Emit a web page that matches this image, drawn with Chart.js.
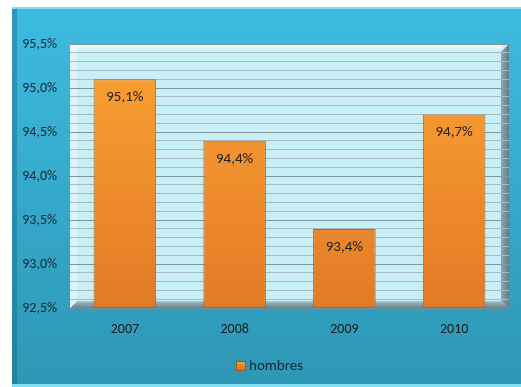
<!DOCTYPE html>
<html>
<head>
<meta charset="utf-8">
<script src="https://cdn.jsdelivr.net/npm/chart.js@4/dist/chart.umd.min.js"></script>
<style>
html,body{margin:0;padding:0;background:#fff;}
#wrap{width:521px;height:387px;position:relative;}
</style>
</head>
<body>
<div id="wrap"><canvas id="c" width="521" height="387"></canvas></div>
<script>
const categories = ["2007", "2008", "2009", "2010"];
const hombres = [95.1, 94.4, 93.4, 94.7];
const yMin = 92.5, yMax = 95.5, yMajor = 0.5, yMinor = 0.1;
const seriesName = "hombres";

const FONT = "Carlito, Lato, 'Liberation Sans', sans-serif";
const fmt = v => v.toFixed(1).replace('.', ',') + '%';

const bgPlugin = {
  id: 'bg',
  beforeDraw(chart) {
    const ctx = chart.ctx, W = chart.width, H = chart.height;
    ctx.save();
    ctx.fillStyle = '#ffffff';
    ctx.fillRect(0, 0, W, H);
    const g = ctx.createLinearGradient(0, 7, 0, 384);
    g.addColorStop(0, '#3dbbe0');
    g.addColorStop(1, '#2e97b5');
    ctx.fillStyle = g;
    ctx.fillRect(12, 7, W - 12, 377);
    ctx.fillStyle = '#7fe0f5';
    ctx.fillRect(12, 7, W - 12, 2);
    ctx.fillRect(12, 384, W - 12, 3);
    ctx.fillStyle = 'rgba(20,90,120,0.35)';
    ctx.fillRect(12, 9, 5, 375);
    const a = chart.chartArea;
    ctx.fillStyle = '#c8eef6';
    ctx.fillRect(a.left, a.top, a.right - a.left, a.bottom - a.top);
    const gt = ctx.createLinearGradient(0, a.top, 0, a.top + 7);
    gt.addColorStop(0, '#f2feff');
    gt.addColorStop(1, '#cdf0f7');
    ctx.fillStyle = gt;
    ctx.fillRect(a.left, a.top, a.right - a.left - 7, 7);
    ctx.fillStyle = 'rgba(255,255,255,0.35)';
    ctx.fillRect(a.left, a.top, 7, a.bottom - a.top);
    const gr = ctx.createLinearGradient(a.right - 8, 0, a.right, 0);
    gr.addColorStop(0, '#8fa9b0');
    gr.addColorStop(1, '#5f7c85');
    ctx.fillStyle = gr;
    ctx.beginPath();
    ctx.moveTo(a.right - 8, a.top + 8);
    ctx.lineTo(a.right, a.top);
    ctx.lineTo(a.right, a.bottom);
    ctx.lineTo(a.right - 8, a.bottom - 7);
    ctx.closePath();
    ctx.fill();
    ctx.restore();
  },
  beforeDatasetsDraw(chart) {
    const ctx = chart.ctx, a = chart.chartArea;
    ctx.save();
    const gf = ctx.createLinearGradient(0, a.bottom - 7, 0, a.bottom);
    gf.addColorStop(0, 'rgba(140,168,176,0.7)');
    gf.addColorStop(1, 'rgba(90,120,130,0.95)');
    ctx.fillStyle = gf;
    ctx.beginPath();
    ctx.moveTo(a.left + 7, a.bottom - 7);
    ctx.lineTo(a.right - 8, a.bottom - 7);
    ctx.lineTo(a.right, a.bottom);
    ctx.lineTo(a.left, a.bottom);
    ctx.closePath();
    ctx.fill();
    ctx.restore();
  },
  afterDatasetsDraw(chart) {
    const ctx = chart.ctx;
    ctx.save();
    const meta = chart.getDatasetMeta(0);
    ctx.font = "15px " + FONT;
    ctx.fillStyle = '#1e1e1e';
    ctx.textAlign = 'center';
    ctx.textBaseline = 'middle';
    meta.data.forEach((bar, i) => {
      ctx.fillText(fmt(hombres[i]), bar.x, bar.y + 18);
    });
    ctx.restore();
  },
  afterDraw(chart) {
    const ctx = chart.ctx;
    ctx.save();
    ctx.font = "15px " + FONT;
    const tw = ctx.measureText(seriesName).width;
    const box = 10, gap = 3;
    const total = box + gap + tw;
    const cx = 270, cy = 366;
    const x0 = Math.round(cx - total / 2);
    const gb = ctx.createLinearGradient(0, cy - 5, 0, cy + 5);
    gb.addColorStop(0, '#f7a23a');
    gb.addColorStop(1, '#d86e20');
    ctx.fillStyle = gb;
    ctx.fillRect(x0, cy - 5, box, box);
    ctx.strokeStyle = '#a8561a';
    ctx.lineWidth = 1;
    ctx.strokeRect(x0 + 0.5, cy - 4.5, box - 1, box - 1);
    ctx.fillStyle = '#1a2535';
    ctx.textAlign = 'left';
    ctx.textBaseline = 'middle';
    ctx.fillText(seriesName, x0 + box + gap, cy);
    ctx.restore();
  }
};

new Chart(document.getElementById('c'), {
  type: 'bar',
  data: {
    labels: categories,
    datasets: [{
      label: seriesName,
      data: hombres,
      base: yMin,
      backgroundColor: (c) => {
        const a = c.chart.chartArea;
        if (!a) return '#f28c2c';
        const g = c.chart.ctx.createLinearGradient(0, a.top, 0, a.bottom);
        g.addColorStop(0, '#fba234');
        g.addColorStop(1, '#e27a26');
        return g;
      },
      borderColor: '#bf601c',
      borderWidth: 1,
      borderSkipped: false,
      categoryPercentage: 1,
      barPercentage: 0.57
    }]
  },
  plugins: [bgPlugin],
  options: {
    responsive: false,
    animation: false,
    layout: { padding: { left: 0, right: 12, top: 44, bottom: 36 } },
    plugins: {
      legend: { display: false },
      tooltip: { enabled: false }
    },
    scales: {
      x: {
        grid: { display: false, drawTicks: false },
        border: { display: false },
        ticks: { font: { family: FONT, size: 14 }, color: '#1a1a1a', padding: 13 }
      },
      y: {
        min: yMin,
        max: yMax,
        afterFit(s) { s.width = 70; },
        afterBuildTicks(s) {
          const t = [];
          for (let v = yMin; v <= yMax + 1e-9; v += yMinor) t.push({ value: Math.round(v * 10) / 10 });
          s.ticks = t;
        },
        border: { display: false },
        grid: {
          drawTicks: false,
          color: (c) => {
            const v = c.tick ? c.tick.value : 0;
            return Math.abs(v / yMajor - Math.round(v / yMajor)) < 1e-6 ? '#7f969d' : '#a7bcc2';
          },
          lineWidth: 1
        },
        ticks: {
          font: { family: FONT, size: 14 },
          color: '#1a2535',
          padding: 13,
          autoSkip: false,
          callback: (v) => Math.abs(v / yMajor - Math.round(v / yMajor)) < 1e-6 ? fmt(v) : ''
        }
      }
    }
  }
});
</script>
</body>
</html>
